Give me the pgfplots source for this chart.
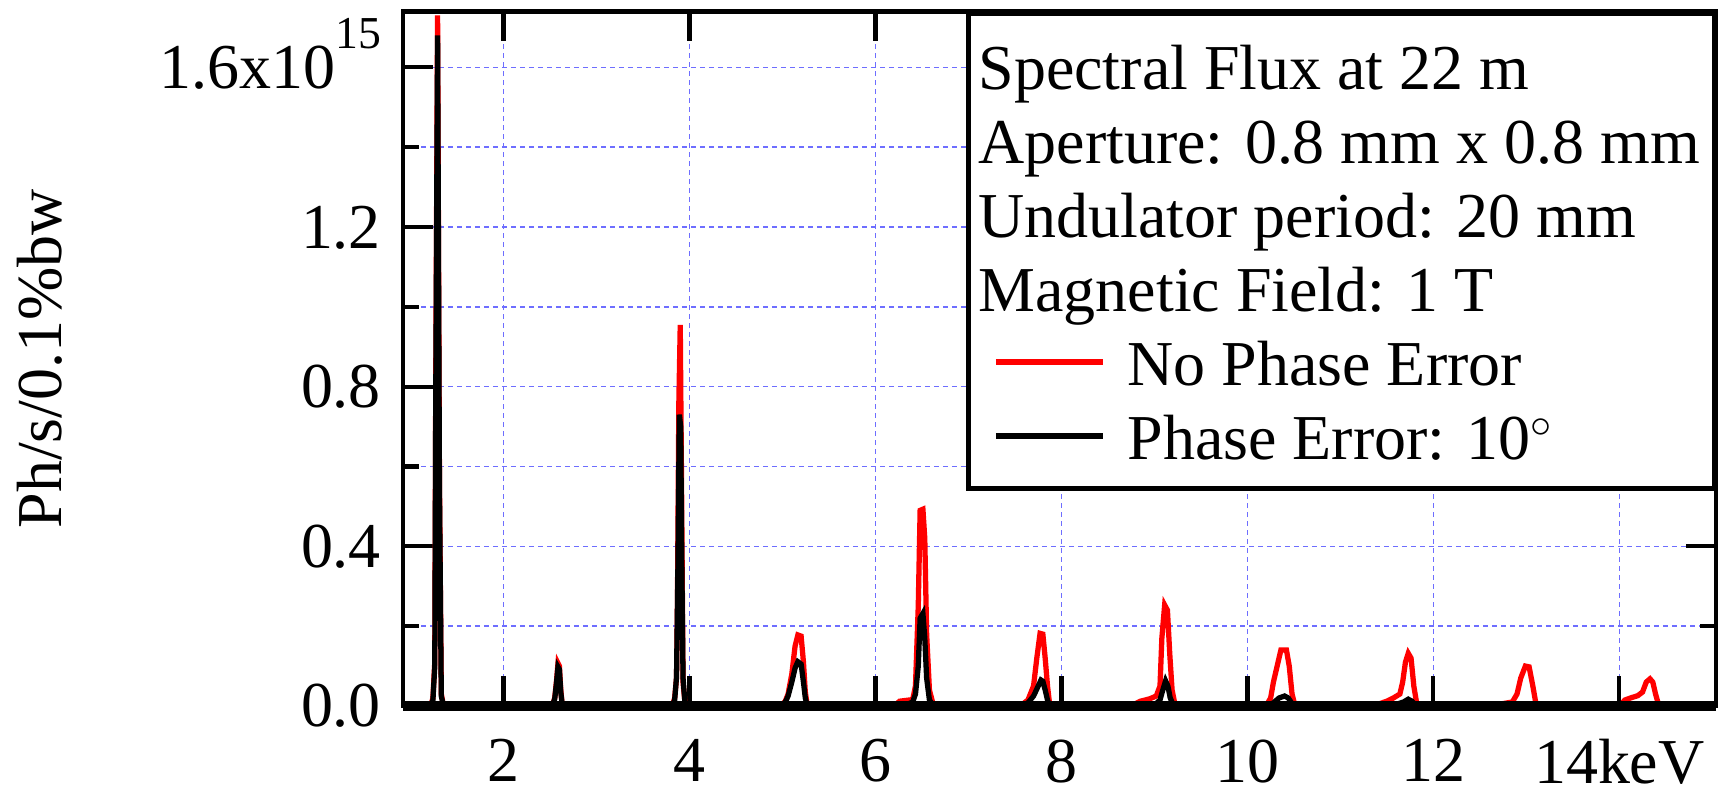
\documentclass[border=0pt]{standalone}
\usepackage{fontspec}
\setmainfont{Liberation Serif}
\usepackage{pgfplots}
\pgfplotsset{compat=1.18}
\definecolor{gridblue}{RGB}{110,110,255}
\begin{document}
\fontsize{18.2}{22}\selectfont
\begin{tikzpicture}
\begin{axis}[
  at={(4.03cm,0.88cm)}, anchor=south west,
  scale only axis, width=13.13cm, height=6.945cm,
  xmin=0.918, xmax=15.04, ymin=0, ymax=1.74,
  clip=false,
  axis line style={line width=1.2pt},
  xtick={2,4,...,14}, xticklabels={2,4,6,8,10,12,14keV},
  ytick={0,0.4,0.8,1.2,1.6},
  yticklabels={0.0,0.4,0.8,1.2,{1.6x10\raisebox{0.62em}{\fontsize{13}{13}\selectfont 15}}},
  minor ytick={0.2,0.6,1.0,1.4},
  tick align=inside,
  major tick length=0.3cm, minor tick length=0.16cm,
  tick style={black, line width=1.2pt},
  xmajorgrids, ymajorgrids, yminorgrids,
  major grid style={gridblue, line width=0.45pt, dash pattern=on 0.05cm off 0.04cm},
  minor grid style={gridblue, line width=0.45pt, dash pattern=on 0.05cm off 0.04cm},
  xticklabel style={yshift=-0.115cm},
  yticklabel style={anchor=base east, yshift=-0.21cm},
  ylabel={Ph/s/0.1\%bw},
  ylabel style={at={(axis description cs:-0.2765,0.5)}, anchor=center},
  legend cell align=left,
  legend style={at={(1,1)}, anchor=north east, draw=black, line width=1.2pt, fill=white,
    inner xsep=0.06cm, inner ysep=0.155cm, row sep=0pt,
    nodes={inner xsep=0.08cm, inner ysep=0.055cm, text height=0.55cm, text depth=0.08cm}},
  legend image code/.code={\draw[#1] (0.215cm,0cm) -- (1.285cm,0cm); \path (1.425cm,0cm);},
]
\addlegendimage{empty legend}
\addlegendimage{empty legend}
\addlegendimage{empty legend}
\addlegendimage{empty legend}
% No phase error
\addplot[red, line width=1.5pt] coordinates {
(0.95,0)
(1.18,0) (1.22,0.004) (1.24,0.02) (1.26,0.11) (1.27,0.79) (1.29,1.73) (1.31,0.57) (1.33,0.03) (1.35,0.005) (1.40,0)
(2.50,0) (2.53,0.005) (2.55,0.02) (2.57,0.065) (2.585,0.107) (2.60,0.10) (2.615,0.04) (2.63,0.005) (2.66,0)
(3.78,0) (3.82,0.004) (3.84,0.02) (3.86,0.07) (3.87,0.26) (3.885,0.76) (3.90,0.955) (3.915,0.52) (3.93,0.06) (3.95,0.01) (3.98,0)
(4.95,0) (5.00,0.004) (5.03,0.012) (5.06,0.03) (5.10,0.08) (5.135,0.15) (5.165,0.178) (5.20,0.175) (5.225,0.11) (5.245,0.035) (5.265,0.003) (5.30,0)
(6.20,0) (6.26,0.012) (6.40,0.016) (6.43,0.05) (6.46,0.25) (6.48,0.49) (6.51,0.493) (6.53,0.42) (6.55,0.18) (6.58,0.04) (6.62,0.004) (6.66,0)
(7.50,0) (7.58,0.004) (7.64,0.015) (7.70,0.05) (7.735,0.12) (7.77,0.182) (7.80,0.18) (7.825,0.12) (7.85,0.05) (7.87,0.01) (7.90,0)
(8.70,0) (8.79,0.005) (8.85,0.012) (8.95,0.018) (9.02,0.025) (9.06,0.05) (9.08,0.17) (9.11,0.253) (9.14,0.24) (9.165,0.13) (9.19,0.04) (9.22,0.005) (9.26,0)
(10.15,0) (10.21,0.004) (10.25,0.02) (10.28,0.06) (10.32,0.10) (10.36,0.14) (10.42,0.14) (10.45,0.10) (10.48,0.03) (10.51,0.003) (10.55,0)
(11.30,0) (11.39,0.003) (11.45,0.008) (11.50,0.012) (11.57,0.02) (11.64,0.03) (11.67,0.06) (11.70,0.11) (11.73,0.132) (11.76,0.12) (11.79,0.05) (11.82,0.008) (11.86,0)
(12.60,0) (12.66,0.004) (12.75,0.006) (12.85,0.01) (12.90,0.03) (12.94,0.07) (12.99,0.10) (13.03,0.098) (13.07,0.05) (13.10,0.01) (13.13,0.001) (13.16,0)
(13.95,0) (14.02,0.004) (14.06,0.015) (14.12,0.02) (14.20,0.026) (14.25,0.035) (14.29,0.06) (14.33,0.068) (14.36,0.06) (14.39,0.03) (14.42,0.005) (14.45,0)
(15.0,0)
};
% Phase error 10 deg
\addplot[black, line width=1.5pt] coordinates {
(0.95,0)
(1.18,0) (1.22,0.003) (1.24,0.015) (1.26,0.10) (1.27,0.75) (1.29,1.68) (1.31,0.55) (1.33,0.025) (1.35,0.004) (1.40,0)
(2.50,0) (2.53,0.004) (2.55,0.018) (2.57,0.06) (2.585,0.098) (2.60,0.092) (2.615,0.035) (2.63,0.004) (2.66,0)
(3.78,0) (3.82,0.003) (3.84,0.015) (3.86,0.073) (3.875,0.35) (3.89,0.73) (3.905,0.70) (3.915,0.40) (3.93,0.07) (3.95,0.01) (3.98,0)
(4.95,0) (5.00,0.003) (5.03,0.01) (5.06,0.025) (5.10,0.06) (5.135,0.095) (5.165,0.111) (5.20,0.105) (5.225,0.06) (5.245,0.02) (5.265,0.002) (5.30,0)
(6.30,0) (6.40,0.01) (6.43,0.03) (6.46,0.10) (6.48,0.22) (6.51,0.232) (6.53,0.17) (6.55,0.07) (6.58,0.015) (6.62,0.002) (6.66,0)
(7.50,0) (7.58,0.002) (7.64,0.008) (7.70,0.025) (7.74,0.045) (7.78,0.065) (7.80,0.062) (7.825,0.04) (7.85,0.015) (7.87,0.003) (7.90,0)
(8.70,0) (8.79,0.002) (8.95,0.004) (9.02,0.006) (9.06,0.015) (9.09,0.04) (9.12,0.063) (9.145,0.05) (9.17,0.02) (9.20,0.004) (9.24,0)
(10.15,0) (10.21,0.001) (10.28,0.008) (10.34,0.02) (10.40,0.025) (10.44,0.02) (10.48,0.006) (10.51,0.001) (10.55,0)
(11.40,0) (11.45,0.001) (11.60,0.004) (11.68,0.01) (11.73,0.017) (11.77,0.012) (11.81,0.002) (11.85,0)
(12.80,0) (12.85,0.001) (12.95,0.003) (13.00,0.005) (13.05,0.004) (13.10,0.001) (13.13,0)
(14.15,0) (14.20,0.001) (14.33,0.003) (14.40,0.001) (14.45,0)
(15.0,0)
};
\addplot[black, line width=3pt, forget plot] coordinates {(0.918,0) (15.04,0)};
\legend{\hspace{-1.49cm}Spectral Flux at 22 m,
        \hspace{-1.49cm}Aperture: 0.8 mm x 0.8 mm,
        \hspace{-1.49cm}Undulator period: 20 mm,
        \hspace{-1.49cm}Magnetic Field: 1 T,
        No Phase Error,
        Phase Error: 10$^{\circ}$}
\end{axis}
\pgfresetboundingbox
\path (0,0) rectangle (17.19cm,7.94cm);
\end{tikzpicture}
\end{document}
